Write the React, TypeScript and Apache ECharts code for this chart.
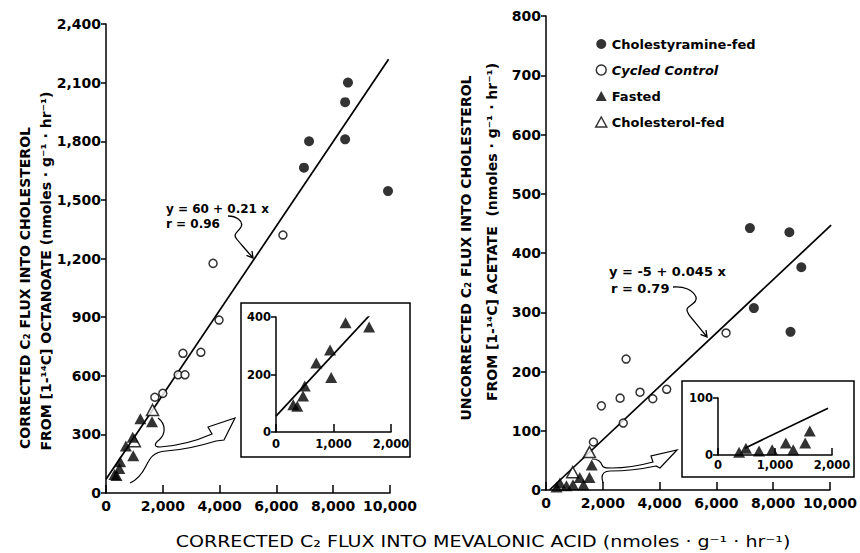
import React, { useEffect, useRef } from "react";
import * as echarts from "echarts";

const FONT = '"DejaVu Sans", Verdana, sans-serif';

// ---- tick values ----
const xTicks = [0, 2000, 4000, 6000, 8000, 10000];
const leftYTicks = [0, 300, 600, 900, 1200, 1500, 1800, 2100, 2400];
const rightYTicks = [0, 100, 200, 300, 400, 500, 600, 700, 800];
const insetXTicks = [0, 1000, 2000];
const leftInsetYTicks = [0, 200, 400];
const rightInsetYTicks = [0, 100];

// ---- group names ----
const groupNames = ["Cholestyramine-fed", "Cycled Control", "Fasted", "Cholesterol-fed"];

// ---- left panel: [1-14C] octanoate ----
const cholestyramineLeft = [[8520, 2100], [8420, 2000], [8420, 1810], [7150, 1800], [6970, 1665], [9930, 1545]];
const cycledLeft = [[6230, 1320], [3770, 1175], [3980, 885], [3340, 720], [2710, 715], [2540, 605], [2780, 605], [2000, 510], [1720, 490]];
const fastedLeft = [[1210, 380], [1620, 365], [940, 285], [700, 240], [960, 190], [500, 160], [470, 125], [300, 95], [370, 90]];
const cholesterolLeft = [[1640, 425], [1000, 265]];
const fitLeft = [[0, 70], [9950, 2220]];
const insetFitLeft = [[0, 55], [1740, 430]];

// ---- right panel: [1-14C] acetate ----
const cholestyramineRight = [[7180, 442], [8570, 435], [10040, 434], [8990, 376], [7320, 307], [8610, 267]];
const cycledRight = [[6340, 265], [2820, 221], [1950, 142], [2610, 155], [3310, 165], [3760, 154], [4250, 170], [2720, 113], [1670, 81]];
const fastedRight = [[370, 5], [490, 12], [720, 7], [950, 9], [1190, 21], [1320, 9], [1530, 21], [1610, 42]];
const cholesterolRight = [[1530, 64], [940, 30]];
const fitRight = [[120, 0], [10040, 447]];
const insetFitRight = [[470, 12], [1930, 82]];

// ---- annotation shapes (pixel paths) ----
const squigLeftD = "M228,216 C236,216 244,221 241,227 C238,232 233,234 236,238 C238,241 241,244 253,258 M246.5,255.4 L253,258 L252,251";
const squigRightD = "M673,287 C684,286 693,290 696,297 C698,303 689,305 687,309 C686,313 692,318 707,337 M700.5,334.4 L707,337 L706,330";
const bigArrowLeftD = "M158,418 C166,424 166,434 159,440 C154,444 154,447 160,447 C176,446 196,441 212,434 L208,427 L235,418 L224,440 L216,441 C200,446 182,450 166,451 C153,452 150,458 146,466 C142,474 137,480 130,483";
const bigArrowRightD = "M592,459 C598,459 601,462 602,465 C603,468 606,468 612,468 C628,468 642,465 653,462 L651,456 L677,450 L660,468 L656,466 C642,469 625,471 610,471 C604,471 602,474 602,478 L603,483";

echarts.graphic.registerShape("squigLeft", echarts.graphic.extendPath(squigLeftD, {}));
echarts.graphic.registerShape("squigRight", echarts.graphic.extendPath(squigRightD, {}));
echarts.graphic.registerShape("bigArrowLeft", echarts.graphic.extendPath(bigArrowLeftD, {}));
echarts.graphic.registerShape("bigArrowRight", echarts.graphic.extendPath(bigArrowRightD, {}));

const fmt = (v: number) => String(v).replace(/\B(?=(\d{3})+(?!\d))/g, ",");

const axisLineStyle = { color: "#000", width: 1.5 };

function xAxis(gridIndex: number, ticks: number[], fontSize: number, margin: number, tickLen: number) {
  return {
    type: "value",
    gridIndex,
    min: ticks[0],
    max: ticks[ticks.length - 1],
    interval: ticks[1] - ticks[0],
    axisLine: { show: true, onZero: false, lineStyle: axisLineStyle },
    axisTick: { show: true, inside: true, length: tickLen, lineStyle: axisLineStyle },
    axisLabel: { margin, fontSize, fontWeight: "bold", color: "#000", fontFamily: FONT, formatter: fmt },
    splitLine: { show: false },
  };
}

function yAxis(gridIndex: number, ticks: number[], fontSize: number, margin: number) {
  return {
    type: "value",
    gridIndex,
    min: ticks[0],
    max: ticks[ticks.length - 1],
    interval: ticks[1] - ticks[0],
    axisLine: { show: true, onZero: false, lineStyle: axisLineStyle },
    axisTick: { show: true, inside: false, length: 5, lineStyle: axisLineStyle },
    axisLabel: { margin, fontSize, fontWeight: "bold", color: "#000", fontFamily: FONT, formatter: fmt },
    splitLine: { show: false },
  };
}

const filledCircle = { color: "#000" };
const openStyle = { color: "#fff", borderColor: "#000", borderWidth: 1.5 };

function scatter(name: string, idx: number, data: number[][], symbol: string, size: any, itemStyle: any) {
  return { type: "scatter", name, xAxisIndex: idx, yAxisIndex: idx, data, symbol, symbolSize: size, itemStyle, z: 3 };
}
function fit(idx: number, data: number[][]) {
  return {
    type: "line", name: "fit" + idx, xAxisIndex: idx, yAxisIndex: idx, data, showSymbol: false, symbol: "none",
    lineStyle: { color: "#000", width: 1.7 }, z: 2, silent: true,
  };
}

const txt = (text: string, x: number, y: number, size: number, weight: string, extra: any = {}) => ({
  type: "text", x, y, z: 10, ...extra,
  style: { text, fill: "#000", fontSize: size, fontWeight: weight, fontFamily: FONT, align: extra.align || "left", verticalAlign: "middle" },
});

export default function App() {
  const ref = useRef<HTMLDivElement>(null);
  useEffect(() => {
    if (!ref.current) return;
    const chart = echarts.init(ref.current, undefined, { renderer: "svg" });
    const option: any = {
      animation: false,
      backgroundColor: "#fff",
      grid: [
        { left: 106, top: 24, width: 284, height: 469 },
        { left: 546, top: 16, width: 287, height: 474 },
        { left: 276, top: 317, width: 115, height: 115 },
        { left: 718, top: 398, width: 114, height: 57 },
      ],
      xAxis: [
        xAxis(0, xTicks, 14, 6, 8),
        xAxis(1, xTicks, 14, 6, 8),
        xAxis(2, insetXTicks, 11.5, 6, 8),
        xAxis(3, insetXTicks, 11.5, 4, 7),
      ],
      yAxis: [
        yAxis(0, leftYTicks, 14, 5),
        yAxis(1, rightYTicks, 14, 5),
        yAxis(2, leftInsetYTicks, 11.5, 5),
        yAxis(3, rightInsetYTicks, 11.5, 5),
      ],
      legend: {
        show: true,
        orient: "vertical",
        left: 590,
        top: 31,
        itemWidth: 11,
        itemHeight: 10,
        itemGap: 10,
        selectedMode: false,
        textStyle: {
          fontFamily: FONT, fontSize: 13, fontWeight: "bold", color: "#000", lineHeight: 16,
          rich: { i: { fontFamily: FONT, fontSize: 13, fontWeight: "bold", fontStyle: "italic", color: "#000" } },
        },
        formatter: (n: string) => (n === "Cycled Control" ? `{i|${n}}` : n),
        data: [
          { name: groupNames[0], icon: "circle", itemStyle: { color: "#000" } },
          { name: groupNames[1], icon: "circle", itemStyle: { color: "#fff", borderColor: "#000", borderWidth: 1.5 } },
          { name: groupNames[2], icon: "triangle", itemStyle: { color: "#000" } },
          { name: groupNames[3], icon: "triangle", itemStyle: { color: "#fff", borderColor: "#000", borderWidth: 1.5 } },
        ],
      },
      series: [
        fit(0, fitLeft),
        scatter(groupNames[0], 0, cholestyramineLeft, "circle", 10, filledCircle),
        scatter(groupNames[1], 0, cycledLeft, "circle", 8, openStyle),
        scatter(groupNames[3], 0, cholesterolLeft, "triangle", [12, 11], openStyle),
        scatter(groupNames[2], 0, fastedLeft, "triangle", [12, 11], filledCircle),
        fit(1, fitRight),
        scatter(groupNames[0], 1, cholestyramineRight, "circle", 10, filledCircle),
        scatter(groupNames[1], 1, cycledRight, "circle", 8, openStyle),
        scatter(groupNames[3], 1, cholesterolRight, "triangle", [12, 11], openStyle),
        scatter(groupNames[2], 1, fastedRight, "triangle", [12, 11], filledCircle),
        fit(2, insetFitLeft),
        scatter(groupNames[2], 2, fastedLeft, "triangle", [12, 11], filledCircle),
        fit(3, insetFitRight),
        scatter(groupNames[2], 3, fastedRight, "triangle", [12, 11], filledCircle),
      ],
      graphic: [
        { type: "rect", z: 0, shape: { x: 241, y: 303, width: 169, height: 154 }, style: { fill: "#fff", stroke: "#000", lineWidth: 1.5 } },
        { type: "rect", z: 0, shape: { x: 682, y: 381, width: 172, height: 96 }, style: { fill: "#fff", stroke: "#000", lineWidth: 1.5 } },
        { type: "squigLeft", x: 0, y: 0, z: 10, style: { stroke: "#000", fill: "none", lineWidth: 1.3 } },
        { type: "squigRight", x: 0, y: 0, z: 10, style: { stroke: "#000", fill: "none", lineWidth: 1.3 } },
        { type: "bigArrowLeft", x: 0, y: 0, z: 10, style: { stroke: "#000", fill: "none", lineWidth: 1.2 } },
        { type: "bigArrowRight", x: 0, y: 0, z: 10, style: { stroke: "#000", fill: "none", lineWidth: 1.2 } },
        txt("y = 60 + 0.21 x", 166, 209, 12, "bold"),
        txt("r = 0.96", 166, 224, 12, "bold"),
        txt("y = -5 + 0.045 x", 609, 271, 13, "bold"),
        txt("r = 0.79", 611, 288, 13, "bold"),
        txt("CORRECTED C\u2082 FLUX INTO CHOLESTEROL", 25, 288, 14, "bold", { rotation: Math.PI / 2, align: "center" }),
        txt("FROM [1-\u00B9\u2074C] OCTANOATE (nmoles \u00B7 g\u207B\u00B9 \u00B7 hr\u207B\u00B9)", 46, 271, 14, "bold", { rotation: Math.PI / 2, align: "center" }),
        txt("UNCORRECTED C\u2082 FLUX INTO CHOLESTEROL", 466, 248, 14, "bold", { rotation: Math.PI / 2, align: "center" }),
        txt("FROM [1-\u00B9\u2074C] ACETATE  (nmoles \u00B7 g\u207B\u00B9 \u00B7 hr\u207B\u00B9)", 492, 232, 14, "bold", { rotation: Math.PI / 2, align: "center" }),
        txt("CORRECTED C\u2082 FLUX INTO MEVALONIC ACID (nmoles \u00B7 g\u207B\u00B9 \u00B7 hr\u207B\u00B9)", 483, 542, 16, "normal", { align: "center", scaleX: 1.19 }),
      ],
    };
    chart.setOption(option);
    return () => chart.dispose();
  }, []);
  return <div ref={ref} style={{ position: "fixed", left: 0, top: 0, width: 860, height: 553, background: "#fff" }} />;
}
